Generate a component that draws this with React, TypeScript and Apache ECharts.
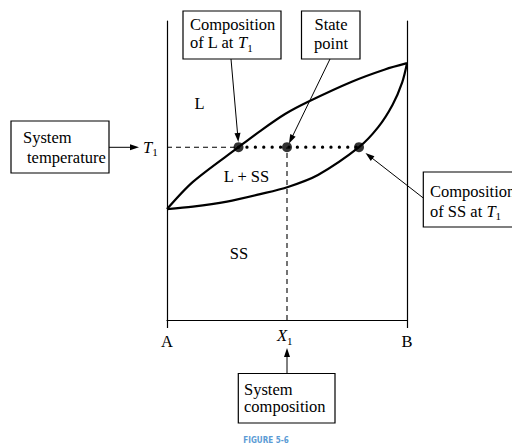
import React, { useEffect, useRef } from 'react';
import * as echarts from 'echarts';

// Phase diagram data (composition in % B, temperature in arbitrary units 0..100)
const liquidusX = [0, 10.8, 29.8, 38.8, 49.2, 58.8, 77.0, 90.8, 100];
const liquidusT = [37.1, 46.2, 57.8, 63.2, 68.9, 73.0, 79.7, 83.8, 85.9];
const solidusX = [0, 10.8, 25, 38.8, 50.4, 62.9, 80, 88, 94, 98, 100];
const solidusT = [37.1, 37.9, 39.6, 42.1, 44.5, 48.5, 57.8, 64.5, 72, 79.5, 85.9];
const T1 = 57.8;
const X1 = 50;
const xLiquid = 29.8;
const xSolid = 80;
const endLabels = ['A', 'B'];

const serif = "'Liberation Serif', 'Times New Roman', serif";
const ink = '#000';
const FS = 16.5;

function arrow(x1: number, y1: number, x2: number, y2: number) {
  const dx = x2 - x1, dy = y2 - y1;
  const len = Math.hypot(dx, dy);
  const ux = dx / len, uy = dy / len;
  const hl = 9, hw = 3;
  const bx = x2 - ux * hl, by = y2 - uy * hl;
  return [
    { type: 'line', shape: { x1, y1, x2: bx + ux * 2, y2: by + uy * 2 }, style: { stroke: ink, lineWidth: 1 } },
    {
      type: 'polygon',
      shape: { points: [[x2, y2], [bx - uy * hw, by + ux * hw], [bx + uy * hw, by - ux * hw]] },
      style: { fill: ink },
    },
  ];
}

const rich = {
  i: { fontStyle: 'italic', fontSize: FS, fontFamily: serif, lineHeight: 16, fill: ink },
  s: { fontSize: 11, fontFamily: serif, padding: [10, 0, 0, 0], fill: ink },
};

function txt(text: string, x: number, y: number, align: string = 'left', lineHeight = 16) {
  return {
    type: 'text',
    x,
    y,
    z: 10,
    style: {
      text,
      fontSize: FS,
      fontFamily: serif,
      fill: ink,
      align,
      verticalAlign: 'middle',
      lineHeight,
      rich,
    },
  };
}

function box(x: number, y: number, w: number, h: number) {
  return { type: 'rect', shape: { x, y, width: w, height: h }, style: { fill: '#fff', stroke: ink, lineWidth: 1.2 } };
}

export default function App() {
  const ref = useRef<HTMLDivElement>(null);
  useEffect(() => {
    const chart = echarts.init(ref.current!, null, { renderer: 'svg' });
    const pair = (xs: number[], ts: number[]) => xs.map((x, i) => [x, ts[i]]);
    const graphic: any[] = [
      // System temperature
      box(11, 121, 98, 52),
      txt('System', 23, 137),
      txt('temperature', 27, 157.5),
      ...arrow(109, 147.3, 139, 147.3),
      txt('{i|T}{s|1}', 143, 147),
      // Composition of L at T1
      box(183, 11, 98, 48),
      txt('Composition', 190, 24.5),
      txt('of L at {i|T}{s|1}', 190, 42.6),
      ...arrow(231, 59, 238.3, 142),
      // State point
      box(301.5, 11, 58.5, 48),
      txt('State', 331, 24.5, 'center'),
      txt('point', 331, 43, 'center'),
      ...arrow(330, 59, 289, 143.5),
      // Composition of SS at T1
      box(423.3, 172, 100, 55),
      txt('Composition', 430, 191),
      txt('of SS at {i|T}{s|1}', 430, 211),
      ...arrow(423.3, 198, 365.5, 153),
      // System composition
      box(238.3, 373.5, 96.7, 49.5),
      txt('System\ncomposition', 244, 398.2, 'left', 17.5),
      ...arrow(287, 373.5, 287, 348),
      // X1 label
      txt('{i|X}{s|1}', 277, 335.5),
      // Region labels
      txt('L', 199.5, 103, 'center'),
      txt('L + SS', 246.5, 176.7, 'center'),
      txt('SS', 239, 253, 'center'),
      // Figure caption
      {
        type: 'text',
        x: 266,
        y: 440.5,
        style: {
          text: 'FIGURE 5-6',
          fontSize: 8,
          fontFamily: "'Liberation Sans Narrow', 'DejaVu Sans Condensed', sans-serif",
          fontWeight: 'bold',
          fill: '#5b9bd5',
          align: 'center',
          verticalAlign: 'middle',
        },
      },
    ];

    const option: any = {
      animation: false,
      backgroundColor: '#fff',
      grid: { left: 167, right: 105, top: 21, bottom: 127, containLabel: false },
      xAxis: {
        type: 'value',
        min: 0,
        max: 100,
        interval: 100,
        axisLine: { show: true, lineStyle: { color: ink, width: 1.2 } },
        axisTick: { show: true, length: 8, lineStyle: { color: ink, width: 1.2 } },
        splitLine: { show: false },
        axisLabel: {
          show: true,
          margin: 13,
          color: ink,
          fontSize: FS,
          fontFamily: serif,
          showMinLabel: true,
          showMaxLabel: true,
          formatter: (v: number) => (v === 0 ? endLabels[0] : v === 100 ? endLabels[1] : ''),
        },
      },
      yAxis: [
        {
          type: 'value',
          min: 0,
          max: 100,
          position: 'left',
          axisLine: { show: true, lineStyle: { color: ink, width: 1.2 } },
          axisTick: { show: false },
          axisLabel: { show: false },
          splitLine: { show: false },
        },
        {
          type: 'value',
          min: 0,
          max: 100,
          position: 'right',
          axisLine: { show: true, lineStyle: { color: ink, width: 1.2 } },
          axisTick: { show: false },
          axisLabel: { show: false },
          splitLine: { show: false },
        },
      ],
      series: [
        {
          type: 'line',
          name: 'liquidus',
          data: pair(liquidusX, liquidusT),
          smooth: 0.3,
          symbol: 'none',
          lineStyle: { color: ink, width: 2.2 },
          z: 3,
        },
        {
          type: 'line',
          name: 'solidus',
          data: pair(solidusX, solidusT),
          smooth: 0.3,
          symbol: 'none',
          lineStyle: { color: ink, width: 2.2 },
          z: 3,
        },
        {
          type: 'line',
          name: 'T1 guide',
          data: [[0, T1], [xLiquid, T1]],
          symbol: 'none',
          lineStyle: { color: ink, width: 1.1, type: [5, 4] },
          z: 2,
        },
        {
          type: 'line',
          name: 'tie line',
          data: [[xLiquid, T1], [xSolid, T1]],
          symbol: 'none',
          lineStyle: { color: ink, width: 3.2, type: [0.1, 8.3], cap: 'round' },
          z: 2,
        },
        {
          type: 'line',
          name: 'X1 guide',
          data: [[X1, 0], [X1, T1]],
          symbol: 'none',
          lineStyle: { color: ink, width: 1.1, type: [5, 4] },
          z: 2,
        },
        {
          type: 'scatter',
          name: 'points',
          data: [[xLiquid, T1], [X1, T1], [xSolid, T1]],
          symbol: 'circle',
          symbolSize: 10,
          itemStyle: { color: ink },
          z: 5,
        },
      ],
      graphic,
    };
    chart.setOption(option);
    return () => chart.dispose();
  }, []);
  return (
    <div
      ref={ref}
      style={{ position: 'fixed', left: 0, top: 0, width: 512, height: 447, background: '#fff' }}
    />
  );
}
